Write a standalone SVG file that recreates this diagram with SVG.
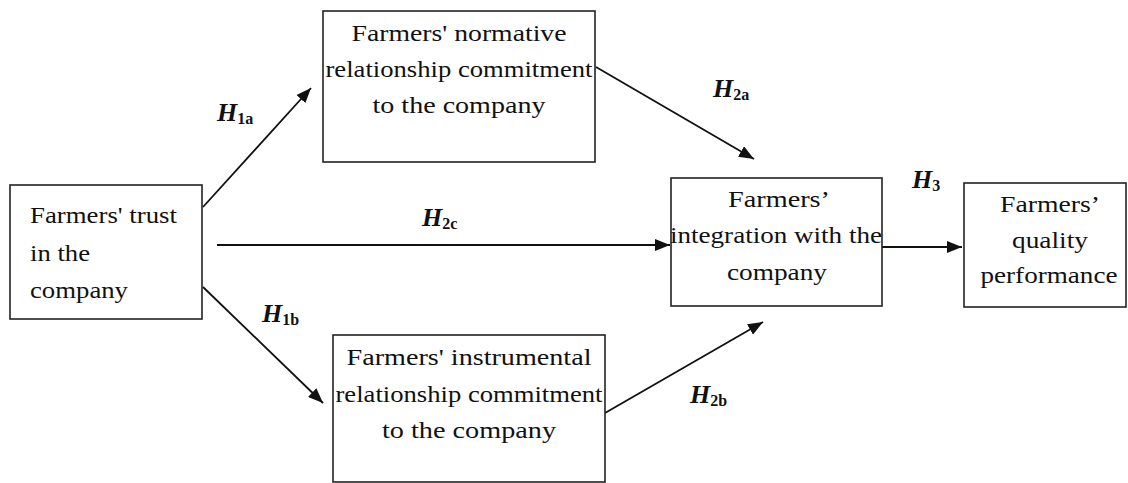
<svg xmlns="http://www.w3.org/2000/svg" width="1128" height="483" viewBox="0 0 1128 483">
<style>
.box{fill:#fff;stroke:#222;stroke-width:1.6}
.t{font-family:'Liberation Serif',Tinos,'Times New Roman',Times,'Nimbus Roman',FreeSerif,serif;font-size:24px;fill:#111}
.c{text-anchor:middle}
.conn{stroke:#111;stroke-width:1.8;fill:none;marker-end:url(#arr)}
.lab{font-family:'Liberation Serif',Tinos,'Times New Roman',Times,'Nimbus Roman',FreeSerif,serif;font-size:26px;font-weight:bold;font-style:italic;fill:#111}
.sub{font-size:16px;font-style:normal;font-weight:bold}
</style>
<defs>
<marker id="arr" markerUnits="userSpaceOnUse" markerWidth="16" markerHeight="12" refX="15" refY="6" orient="auto">
<path d="M0,0 L15,6 L0,12 z" fill="#111"/>
</marker>
</defs>
<rect width="1128" height="483" fill="#fff"/>
<g id="connectors">
<line class="conn" x1="203" y1="207" x2="311" y2="88"/>
<line class="conn" x1="203" y1="287" x2="323" y2="403"/>
<line class="conn" x1="217" y1="245" x2="670" y2="245"/>
<line class="conn" x1="596" y1="67" x2="754" y2="159"/>
<line class="conn" x1="605" y1="413" x2="763" y2="322"/>
<line class="conn" x1="882" y1="247" x2="962" y2="247"/>
</g>
<g id="labels">
<text class="lab" x="217" y="121">H<tspan class="sub" dy="3">1a</tspan></text>
<text class="lab" x="262" y="322">H<tspan class="sub" dy="3">1b</tspan></text>
<text class="lab" x="422" y="226">H<tspan class="sub" dy="3">2c</tspan></text>
<text class="lab" x="713" y="97">H<tspan class="sub" dy="3">2a</tspan></text>
<text class="lab" x="690" y="403">H<tspan class="sub" dy="3">2b</tspan></text>
<text class="lab" x="912" y="188">H<tspan class="sub" dy="3">3</tspan></text>
</g>
<g id="trust">
<rect class="box" x="10" y="185" width="192" height="134"/>
<text class="t" x="30" y="223" textLength="147" lengthAdjust="spacingAndGlyphs">Farmers' trust</text>
<text class="t" x="30" y="261" textLength="60" lengthAdjust="spacingAndGlyphs">in the</text>
<text class="t" x="30" y="298" textLength="98" lengthAdjust="spacingAndGlyphs">company</text>
</g>
<g id="normative">
<rect class="box" x="323" y="11" width="272" height="151"/>
<text class="t c" x="459" y="41" textLength="215" lengthAdjust="spacingAndGlyphs">Farmers' normative</text>
<text class="t c" x="459" y="77" textLength="267" lengthAdjust="spacingAndGlyphs">relationship commitment</text>
<text class="t c" x="459" y="113" textLength="173" lengthAdjust="spacingAndGlyphs">to the company</text>
</g>
<g id="instrumental">
<rect class="box" x="333" y="335" width="272" height="147"/>
<text class="t c" x="469" y="365" textLength="245" lengthAdjust="spacingAndGlyphs">Farmers' instrumental</text>
<text class="t c" x="469" y="402" textLength="267" lengthAdjust="spacingAndGlyphs">relationship commitment</text>
<text class="t c" x="469" y="438" textLength="174" lengthAdjust="spacingAndGlyphs">to the company</text>
</g>
<g id="integration">
<rect class="box" x="671" y="178" width="211" height="128"/>
<text class="t c" x="779" y="207" textLength="102" lengthAdjust="spacingAndGlyphs">Farmers’</text>
<text class="t c" x="776" y="243" textLength="212" lengthAdjust="spacingAndGlyphs">integration with the</text>
<text class="t c" x="777" y="280" textLength="100" lengthAdjust="spacingAndGlyphs">company</text>
</g>
<g id="quality">
<rect class="box" x="964" y="183" width="162" height="124"/>
<text class="t c" x="1050" y="212" textLength="100" lengthAdjust="spacingAndGlyphs">Farmers’</text>
<text class="t c" x="1050" y="248" textLength="76" lengthAdjust="spacingAndGlyphs">quality</text>
<text class="t c" x="1049" y="283" textLength="137" lengthAdjust="spacingAndGlyphs">performance</text>
</g>
</svg>
